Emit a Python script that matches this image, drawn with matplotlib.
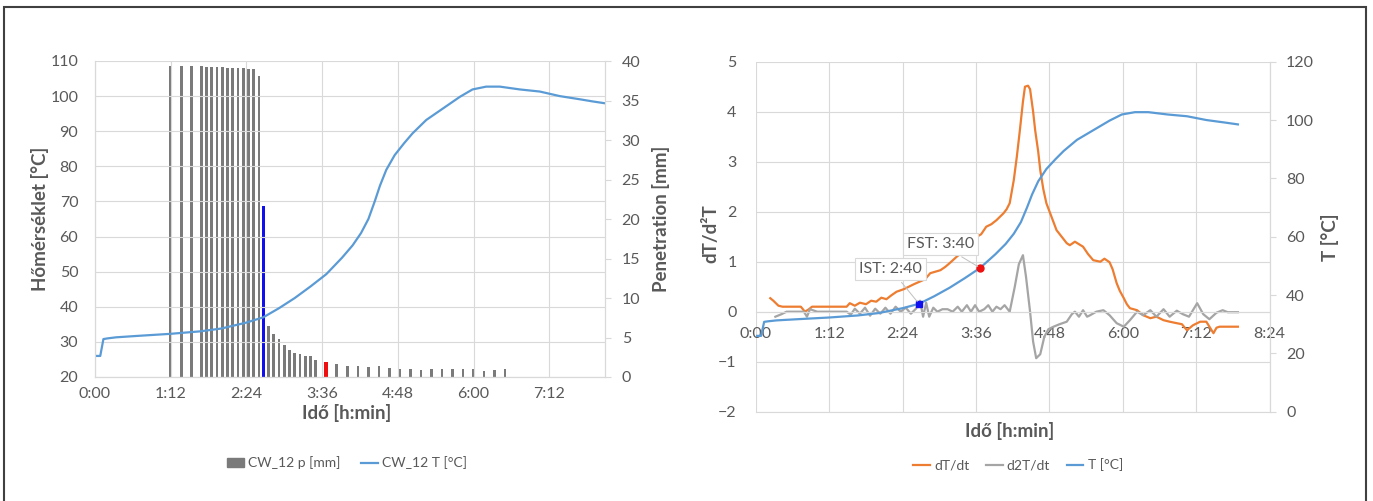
import numpy as np
import matplotlib
matplotlib.use("Agg")
import matplotlib.pyplot as plt
from matplotlib.ticker import FuncFormatter, MultipleLocator
from matplotlib.patches import Patch, Rectangle
from matplotlib.lines import Line2D

plt.rcParams["font.family"] = ["Lato", "DejaVu Sans"]

# ---- data (time in minutes) ----
temp_t = [0, 5, 8, 12, 20, 40, 72, 100, 120, 144, 160, 175, 190, 205, 220, 235,
          245, 253, 260, 266, 271, 277, 285, 294, 302, 315, 331, 347, 359, 372,
          385, 404, 423, 442, 461, 473, 484]
temp_c = [26.0, 26.0, 30.8, 31.0, 31.3, 31.7, 32.3, 33.0, 33.8, 35.5, 37.0, 39.6,
          42.5, 45.8, 49.3, 54.0, 57.5, 61.0, 65.0, 70.0, 74.5, 79.0, 83.2, 86.6,
          89.4, 93.2, 96.5, 99.8, 101.9, 102.7, 102.7, 101.9, 101.3, 100.0, 99.1,
          98.5, 98.0]

pen_t = [72, 82, 92, 101, 106, 111, 116, 121, 126, 131, 136, 141, 146, 151, 156,
         160, 165, 170, 175, 180, 185, 190, 195, 200, 205, 210,
         220, 230, 240, 250, 260, 270, 280, 290, 300, 310, 320, 330, 340, 350,
         360, 370, 380, 390]
pen_mm = [39.4, 39.4, 39.4, 39.4, 39.3, 39.3, 39.2, 39.2, 39.1, 39.1, 39.1, 39.1,
          39.0, 39.0, 38.1,
          21.7, 6.5, 5.5, 4.8, 4.0, 3.4, 3.0, 2.9, 2.6, 2.6, 2.2,
          1.95, 1.7, 1.4, 1.45, 1.3, 1.35, 1.1, 1.05, 1.0, 0.9, 1.0, 1.05, 1.05,
          1.05, 1.05, 0.8, 0.9, 1.0]

IST_MIN = 160
FST_MIN = 220

dT_t = [14, 17, 22, 26, 35, 44, 48, 52, 55, 70, 89, 92, 97, 102, 108, 113, 118,
        123, 128, 133, 138, 145, 155, 166, 171, 176, 181, 186, 190, 197, 203, 210,
        217, 221, 226, 231, 236, 243, 246, 249, 253, 256, 259, 262, 264, 267, 269,
        272, 274, 277, 279, 282, 285, 290, 295, 300, 305, 308, 313, 317, 321, 326,
        331, 338, 342, 347, 350, 354, 357, 361, 364, 367, 374, 380, 387, 393, 400,
        406, 413, 418, 423, 429, 436, 442, 449, 452, 455, 473]
dT_v = [0.27, 0.22, 0.12, 0.1, 0.1, 0.1, 0.0, 0.05, 0.1, 0.1, 0.1, 0.17, 0.12,
        0.18, 0.15, 0.22, 0.2, 0.28, 0.25, 0.33, 0.4, 0.45, 0.55, 0.65, 0.77, 0.8,
        0.83, 0.9, 0.97, 1.1, 1.2, 1.35, 1.5, 1.55, 1.7, 1.75, 1.83, 1.97, 2.05,
        2.17, 2.63, 3.1, 3.63, 4.2, 4.5, 4.52, 4.45, 4.0, 3.63, 3.2, 2.83, 2.45,
        2.17, 1.9, 1.63, 1.5, 1.37, 1.33, 1.4, 1.35, 1.3, 1.15, 1.03, 1.0, 1.06,
        0.99, 0.85, 0.57, 0.42, 0.27, 0.15, 0.07, 0.03, -0.07, -0.13, -0.1, -0.17,
        -0.2, -0.23, -0.25, -0.37, -0.27, -0.2, -0.2, -0.43, -0.32, -0.3, -0.3]

d2T_t = [19, 25, 30, 47, 50, 53, 60, 89, 93, 97, 102, 107, 112, 117, 122, 127,
         132, 137, 142, 147, 152, 157, 161, 164, 167, 170, 174, 178, 183, 188, 193,
         198, 202, 207, 211, 215, 219, 224, 228, 232, 236, 240, 244, 249, 254, 258,
         262, 265, 269, 272, 275, 279, 283, 287, 292, 298, 305, 310, 313, 317, 321,
         325, 328, 334, 341, 347, 354, 361, 367, 374, 380, 387, 393, 400, 406, 413,
         419, 425, 433, 439, 445, 452, 458, 463, 473]
d2T_v = [-0.1, -0.05, 0.0, 0.0, -0.1, 0.05, 0.0, 0.0, -0.06, 0.06, -0.04, 0.08,
         -0.08, 0.06, -0.04, 0.08, -0.04, 0.1, 0.0, 0.08, -0.04, 0.06, 0.22, -0.1,
         0.18, -0.1, 0.08, 0.0, 0.05, 0.05, 0.0, 0.1, 0.0, 0.13, 0.0, 0.13, 0.0,
         0.05, 0.13, 0.0, 0.1, 0.05, 0.13, 0.0, 0.5, 0.95, 1.13, 0.7, 0.0, -0.6,
         -0.93, -0.85, -0.5, -0.35, -0.3, -0.25, -0.2, -0.05, 0.0, -0.1, 0.03, -0.1,
         -0.07, 0.0, 0.03, -0.07, -0.23, -0.3, -0.17, 0.0, -0.07, 0.03, -0.1, 0.05,
         -0.1, 0.02, -0.05, -0.1, 0.17, -0.05, -0.15, -0.02, 0.03, -0.01, -0.01]

BLUE = "#5b9bd5"
ORANGE = "#ed7d31"
GRAY = "#a5a5a5"
BAR = "#7a7a7a"
GRID = "#d9d9d9"
TXT = "#595959"

W, H = 1373, 501
TICK_FS = 11.5
TITLE_FS = 13.5
LEG_FS = 10


def px_box(l, t, r, b):
    return [l / W, 1 - b / H, (r - l) / W, (b - t) / H]


def hmin(v, pos):
    v = int(round(v))
    return f"{v // 60}:{v % 60:02d}"


def style(ax):
    for s in ax.spines.values():
        s.set_color(GRID)
    ax.tick_params(colors=TXT, labelsize=TICK_FS, length=0)


fig = plt.figure(figsize=(W / 100, H / 100), dpi=100)

# ---------------- left chart ----------------
axL = fig.add_axes(px_box(95, 61, 605, 377))
axLp = axL.twinx()
axL.set_zorder(axLp.get_zorder() + 1)
axL.patch.set_visible(False)

bar_colors = []
for t in pen_t:
    if t == IST_MIN:
        bar_colors.append("#1010ee")
    elif t == FST_MIN:
        bar_colors.append("#ee1010")
    else:
        bar_colors.append(BAR)
widths = [4.0 if t == FST_MIN else 2.6 for t in pen_t]
axLp.bar(pen_t, pen_mm, width=widths, color=bar_colors)
axL.plot(temp_t, temp_c, color=BLUE, lw=1.6)

axL.set_xlim(0, 485)
axL.set_ylim(20, 110)
axLp.set_ylim(0, 40)
axL.xaxis.set_major_locator(MultipleLocator(72))
axL.xaxis.set_major_formatter(FuncFormatter(hmin))
axL.yaxis.set_major_locator(MultipleLocator(10))
axLp.yaxis.set_major_locator(MultipleLocator(5))
axL.grid(color=GRID, lw=0.8)
style(axL)
style(axLp)
axL.spines["top"].set_visible(False)
axLp.spines["top"].set_visible(False)
axL.tick_params(axis="y", pad=12)
axL.tick_params(axis="x", pad=7)
axLp.tick_params(axis="y", length=4, color=GRID, pad=8)

fig.text(40 / W, 1 - 219 / H, "Hőmérséklet [°C]", rotation=90, ha="center",
         va="center", fontsize=TITLE_FS, fontweight="bold", color=TXT)
fig.text(661 / W, 1 - 219 / H, "Penetration [mm]", rotation=90, ha="center",
         va="center", fontsize=TITLE_FS, fontweight="bold", color=TXT)
fig.text(347 / W, 1 - 413 / H, "Idő [h:min]", ha="center", va="center",
         fontsize=TITLE_FS, fontweight="bold", color=TXT)

fig.legend(handles=[Patch(color=BAR, label="CW_12 p [mm]"),
                    Line2D([], [], color=BLUE, lw=1.6, label="CW_12 T [°C]")],
           loc="center", bbox_to_anchor=(347 / W, 1 - 463 / H), ncol=2,
           frameon=False, fontsize=LEG_FS, labelcolor=TXT, handlelength=1.2,
           handletextpad=0.3, columnspacing=1.5)

# ---------------- right chart ----------------
axR = fig.add_axes(px_box(756, 61.7, 1269.5, 411.7))
axRt = axR.twinx()

axR.plot(dT_t, dT_v, color=ORANGE, lw=1.6)
axR.plot(d2T_t, d2T_v, color=GRAY, lw=1.6)

t_arr = np.array(temp_t)
c_arr = np.array(temp_c)
keep = t_arr <= dT_t[-1]
axRt.plot(t_arr[keep], c_arr[keep], color=BLUE, lw=1.6)

ist_c = np.interp(IST_MIN, temp_t, temp_c)
fst_c = np.interp(FST_MIN, temp_t, temp_c)
axRt.plot([IST_MIN], [ist_c], "s", color="#1010ee", ms=5, zorder=5)
axRt.plot([FST_MIN], [fst_c], "o", color="#ee1010", ms=5, zorder=5)
box = dict(boxstyle="square,pad=0.25", fc="white", ec=GRID, lw=0.8)
axRt.annotate("IST: 2:40", xy=(IST_MIN, ist_c), xytext=(132, 49), fontsize=TICK_FS,
              color=TXT, ha="center", va="center", bbox=box, zorder=6,
              arrowprops=dict(arrowstyle="-", color="#bfbfbf", lw=0.7))
axRt.annotate("FST: 3:40", xy=(FST_MIN, fst_c), xytext=(181, 57.5), fontsize=TICK_FS,
              color=TXT, ha="center", va="center", bbox=box, zorder=6,
              arrowprops=dict(arrowstyle="-", color="#bfbfbf", lw=0.7))

axR.set_xlim(0, 504)
axR.set_ylim(-2, 5)
axRt.set_ylim(0, 120)
axR.xaxis.set_major_locator(MultipleLocator(72))
axR.xaxis.set_major_formatter(FuncFormatter(hmin))
axR.yaxis.set_major_locator(MultipleLocator(1))
axRt.yaxis.set_major_locator(MultipleLocator(20))
axR.grid(color=GRID, lw=0.8)
style(axR)
style(axRt)
axR.spines["bottom"].set_position(("data", 0))
for a in (axR, axRt):
    a.spines["top"].set_visible(False)
    a.spines["left"].set_visible(False)
axR.tick_params(axis="x", pad=11)
axR.tick_params(axis="y", pad=14)
axRt.tick_params(axis="y", length=4, color=GRID, pad=8)

fig.text(711 / W, 1 - 234 / H, "dT/d²T", rotation=90, ha="center", va="center",
         fontsize=TITLE_FS, fontweight="bold", color=TXT)
fig.text(1330 / W, 1 - 237 / H, "T [°C]", rotation=90, ha="center", va="center",
         fontsize=TITLE_FS, fontweight="bold", color=TXT)
fig.text(1010 / W, 1 - 431 / H, "Idő [h:min]", ha="center", va="center",
         fontsize=TITLE_FS, fontweight="bold", color=TXT)

fig.legend(handles=[Line2D([], [], color=ORANGE, lw=1.6, label="dT/dt"),
                    Line2D([], [], color=GRAY, lw=1.6, label="d2T/dt"),
                    Line2D([], [], color=BLUE, lw=1.6, label="T [°C]")],
           loc="center", bbox_to_anchor=(1018 / W, 1 - 465 / H), ncol=3,
           frameon=False, fontsize=LEG_FS, labelcolor=TXT, handlelength=1.2,
           handletextpad=0.3, columnspacing=1.2)

# outer frame
fig.add_artist(Rectangle((4 / W, -0.02), 1362 / W, 1 - 7 / H + 0.02,
                         transform=fig.transFigure, fill=False,
                         ec="#404040", lw=1.5))

fig.savefig("out.png", dpi=100)
